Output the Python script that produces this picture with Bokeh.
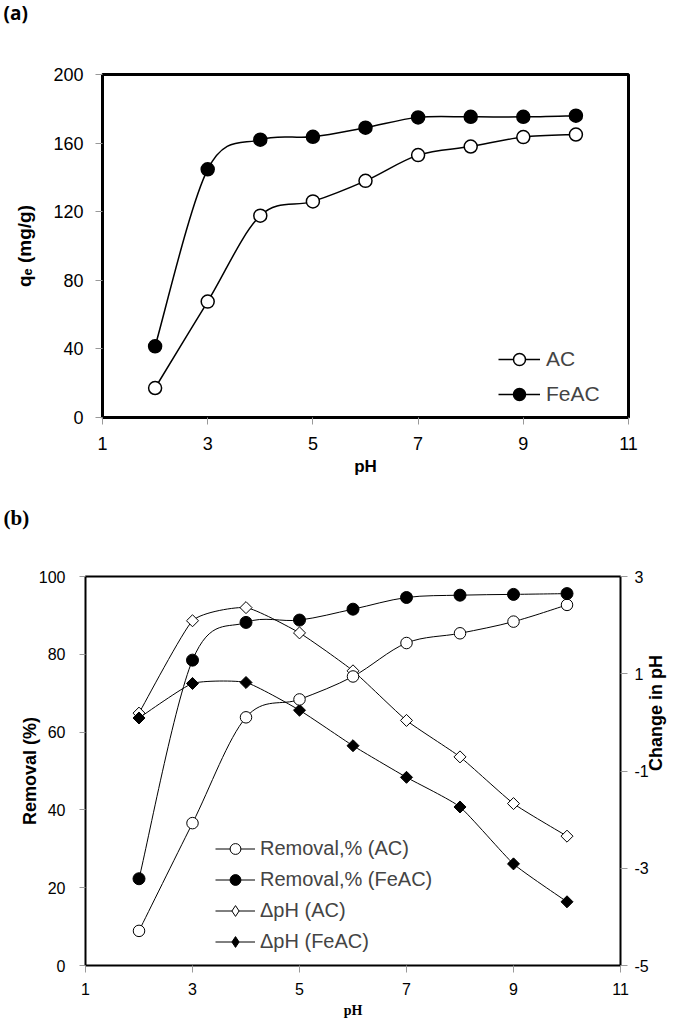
import numpy as np
from bokeh.plotting import figure
from bokeh.models import (Range1d, LinearAxis, FixedTicker, Legend, LegendItem,
                          ColumnDataSource, Label)
from bokeh.embed import file_html
from bokeh.resources import INLINE

# ---------------- data ----------------
ph = [2, 3, 4, 5, 6, 7, 8, 9, 10]
qe_ac = [17.2, 67.6, 117.7, 126.0, 138.0, 153.0, 158.0, 163.5, 165.0]
qe_feac = [41.5, 144.7, 162.0, 163.7, 169.0, 175.0, 175.3, 175.3, 176.0]
removal_ac = [8.9, 36.6, 63.8, 68.4, 74.3, 82.9, 85.4, 88.4, 92.7]
removal_feac = [22.3, 78.5, 88.2, 88.8, 91.6, 94.6, 95.2, 95.4, 95.6]
dph_ac = [0.19, 2.09, 2.36, 1.84, 1.06, 0.04, -0.71, -1.67, -2.34]
dph_feac = [0.09, 0.80, 0.82, 0.25, -0.48, -1.13, -1.74, -2.91, -3.69]
x_ticks = [1, 3, 5, 7, 9, 11]
qe_ticks = [0, 40, 80, 120, 160, 200]
removal_ticks = [0, 20, 40, 60, 80, 100]
dph_ticks = [-5, -3, -1, 1, 3]

FONT = "Liberation Sans"


def smooth_source(x, y, k=1.0 / 6.0):
    """Bezier segments (smoothed line) through the data points."""
    x = np.asarray(x, float)
    y = np.asarray(y, float)
    n = len(x)
    xp = np.concatenate([[x[0]], x, [x[-1]]])
    yp = np.concatenate([[y[0]], y, [y[-1]]])
    return ColumnDataSource(dict(
        x0=x[:-1], y0=y[:-1], x1=x[1:], y1=y[1:],
        cx0=x[:-1] + (xp[2:n + 1] - xp[0:n - 1]) * k,
        cy0=y[:-1] + (yp[2:n + 1] - yp[0:n - 1]) * k,
        cx1=x[1:] - (xp[3:n + 2] - xp[1:n]) * k,
        cy1=y[1:] - (yp[3:n + 2] - yp[1:n]) * k,
    ))


def smooth(p, x, y, width, k=1.0 / 6.0, **kw):
    return p.bezier(x0="x0", y0="y0", x1="x1", y1="y1", cx0="cx0", cy0="cy0",
                    cx1="cx1", cy1="cy1", source=smooth_source(x, y, k),
                    line_color="black", line_width=width, **kw)


def style_axis(ax, size, tick_out, standoff):
    ax.major_label_text_font = FONT
    ax.major_label_text_font_size = size
    ax.major_label_text_color = "black"
    ax.axis_line_color = None
    ax.major_tick_line_color = "#999999"
    ax.major_tick_in = 0
    ax.major_tick_out = tick_out
    ax.minor_tick_line_color = None
    ax.major_label_standoff = standoff
    ax.axis_label_text_font = FONT
    ax.axis_label_text_font_style = "bold"
    ax.axis_label_text_color = "black"


def caption(text, height, y_from_bottom, font, size):
    """A thin strip that carries a panel caption such as (a) or (b)."""
    c = figure(width=678, height=height, x_range=Range1d(0, 1), y_range=Range1d(0, 1),
               title=None, output_backend="svg", toolbar_location=None,
               x_axis_type=None, y_axis_type=None, min_border=0)
    c.outline_line_color = None
    c.grid.visible = False
    c.background_fill_color = "white"
    c.border_fill_color = "white"
    c.add_layout(Label(x=3, y=y_from_bottom, x_units="screen", y_units="screen", text=text,
                       text_font=font, text_font_size=size, text_font_style="bold",
                       text_baseline="middle", text_align="left", text_color="black"))
    return c


cap_a = caption("(a)", 25, 13, "Open Sans", "19px")

# ---------------- (a) ----------------
p1 = figure(width=678, height=453, x_range=Range1d(1, 11), y_range=Range1d(0, 200),
            title=None, output_backend="svg", toolbar_location=None,
            min_border_left=102, min_border_right=50, min_border_top=49, min_border_bottom=59)
p1.grid.visible = False
p1.outline_line_color = "black"
p1.outline_line_width = 3
p1.background_fill_color = "white"
p1.border_fill_color = "white"

p1.xaxis.ticker = FixedTicker(ticks=x_ticks)
p1.yaxis.ticker = FixedTicker(ticks=qe_ticks)
style_axis(p1.xaxis[0], "18px", 7, 12)
style_axis(p1.yaxis[0], "18px", 7, 12)
p1.xaxis.axis_label = "pH"
p1.xaxis.axis_label_text_font_size = "17px"
p1.xaxis.axis_label_standoff = 4
p1.yaxis.axis_label = "qₑ (mg/g)"
p1.yaxis.axis_label_text_font_size = "19px"
p1.yaxis.axis_label_standoff = 15

b_ac = smooth(p1, ph, qe_ac, 1.5)
b_fe = smooth(p1, ph, qe_feac, 1.5)
s_ac = p1.scatter(ph, qe_ac, marker="circle", size=13, fill_color="white",
                  line_color="black", line_width=1.5)
s_fe = p1.scatter(ph, qe_feac, marker="circle", size=13, fill_color="black",
                  line_color="black", line_width=1.5)

leg1 = Legend(items=[LegendItem(label="AC", renderers=[b_ac, s_ac]),
                     LegendItem(label="FeAC", renderers=[b_fe, s_fe])],
              location=(396, 8), padding=0, margin=0, spacing=5,
              label_height=30, glyph_height=30, glyph_width=42, label_standoff=6,
              label_text_font=FONT, label_text_font_size="21px",
              background_fill_alpha=0, border_line_color=None)
p1.add_layout(leg1)

cap_b = caption("(b)", 62, 23, "Liberation Serif", "21px")

# ---------------- (b) ----------------
p2 = figure(width=678, height=480, x_range=Range1d(1, 11), y_range=Range1d(0, 100),
            title=None, output_backend="svg", toolbar_location=None,
            min_border_left=85, min_border_right=58, min_border_top=36, min_border_bottom=55)
p2.grid.visible = False
p2.outline_line_color = "black"
p2.outline_line_width = 2
p2.background_fill_color = "white"
p2.border_fill_color = "white"
p2.extra_y_ranges = {"dph": Range1d(-5, 3)}
right_axis = LinearAxis(y_range_name="dph")
p2.add_layout(right_axis, "right")

p2.xaxis.ticker = FixedTicker(ticks=x_ticks)
p2.yaxis[0].ticker = FixedTicker(ticks=removal_ticks)
right_axis.ticker = FixedTicker(ticks=dph_ticks)
right_axis.major_label_overrides = {t: str(t) for t in dph_ticks}
style_axis(p2.xaxis[0], "16px", 7, 10)
style_axis(p2.yaxis[0], "16px", 6, 14)
style_axis(right_axis, "16px", 7, 7)
p2.xaxis.axis_label = "pH"
p2.xaxis.axis_label_text_font = "Liberation Serif"
p2.xaxis.axis_label_text_font_size = "14px"
p2.xaxis.axis_label_standoff = 5
p2.yaxis[0].axis_label = "Removal (%)"
p2.yaxis[0].axis_label_text_font_size = "18px"
p2.yaxis[0].axis_label_standoff = -4
right_axis.axis_label = "Change in pH"
right_axis.axis_label_text_font_size = "18px"
right_axis.axis_label_standoff = 4
right_axis.axis_label_orientation = np.pi / 2

r_ac_l = smooth(p2, ph, removal_ac, 1)
r_fe_l = smooth(p2, ph, removal_feac, 1)
d_ac_l = smooth(p2, ph, dph_ac, 1, k=1.0 / 12.0, y_range_name="dph")
d_fe_l = smooth(p2, ph, dph_feac, 1, k=1.0 / 12.0, y_range_name="dph")
d_ac_s = p2.scatter(ph, dph_ac, marker="square", angle=np.pi / 4, size=8.5, fill_color="white",
                    line_color="black", line_width=1, y_range_name="dph")
d_fe_s = p2.scatter(ph, dph_feac, marker="square", angle=np.pi / 4, size=8.5, fill_color="black",
                    line_color="black", line_width=1, y_range_name="dph")
r_ac_s = p2.scatter(ph, removal_ac, marker="circle", size=11.5, fill_color="white",
                    line_color="black", line_width=1)
r_fe_s = p2.scatter(ph, removal_feac, marker="circle", size=12, fill_color="black",
                    line_color="black", line_width=1)
# legend swatches for the diamonds (legend markers are not rotated)
d_ac_k = p2.scatter(ph, dph_ac, marker="diamond", size=12, fill_color="white",
                    line_color="black", line_width=1, y_range_name="dph", visible=False)
d_fe_k = p2.scatter(ph, dph_feac, marker="diamond", size=12, fill_color="black",
                    line_color="black", line_width=1, y_range_name="dph", visible=False)

leg2 = Legend(items=[LegendItem(label="Removal,% (AC)", renderers=[r_ac_l, r_ac_s]),
                     LegendItem(label="Removal,% (FeAC)", renderers=[r_fe_l, r_fe_s]),
                     LegendItem(label="ΔpH (AC)", renderers=[d_ac_l, d_ac_k]),
                     LegendItem(label="ΔpH (FeAC)", renderers=[d_fe_l, d_fe_k])],
              location=(130, 10), padding=0, margin=0, spacing=4,
              label_height=27, glyph_height=27, glyph_width=40, label_standoff=5,
              label_text_font=FONT, label_text_font_size="20px",
              background_fill_alpha=0, border_line_color=None)
p2.add_layout(leg2)

open("out.html", "w").write(file_html([cap_a, p1, cap_b, p2], INLINE))
